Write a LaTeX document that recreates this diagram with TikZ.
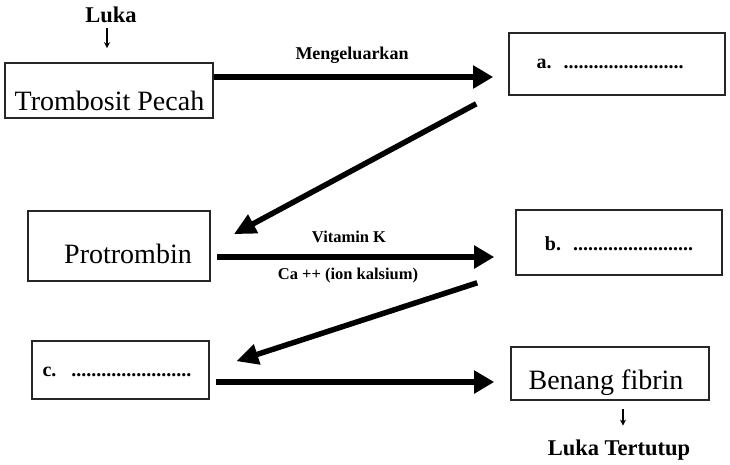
\documentclass[tikz,border=0pt]{standalone}
\usepackage{fontspec}
\setmainfont{Liberation Serif}
\usetikzlibrary{arrows.meta}
\newcommand\dotrow{........................}
\begin{document}
\begin{tikzpicture}[x=1pt,y=-1pt,
  box/.style={draw=black!85,line width=1.6pt,inner sep=0pt},
  word/.style={font=\fontsize{28}{30}\selectfont,inner sep=0pt},
  lab/.style={font=\bfseries\fontsize{17}{19}\selectfont,inner sep=0pt},
  biglab/.style={font=\bfseries\fontsize{22.5}{24}\selectfont,inner sep=0pt},
  blank/.style={font=\bfseries\fontsize{20}{22}\selectfont,inner sep=0pt},
  bigarrow/.style={line width=6.5pt,-{Triangle[length=20pt,width=22pt]}},
  diagarrow/.style={line width=5.5pt,-{Triangle[length=22pt,width=20pt]}},
  smallarrow/.style={line width=1.2pt,-{Stealth[length=6pt,width=6pt]}}]
\useasboundingbox (0,0) rectangle (730,464);
% boxes
\node[box,minimum width=208pt,minimum height=55pt] (tromb) at (109,90.5) {};
\node[box,minimum width=216pt,minimum height=62pt] (a) at (617,64) {};
\node[box,minimum width=182pt,minimum height=70pt] (prot) at (119,246) {};
\node[box,minimum width=206pt,minimum height=65pt] (b) at (619,242.5) {};
\node[box,minimum width=177pt,minimum height=58pt] (c) at (120.5,370) {};
\node[box,minimum width=198pt,minimum height=53pt] (fib) at (610,373.5) {};
% texts in boxes
\node[word] (trombT) at (109.5,101) {Trombosit Pecah};
\node[blank] (aT) at (610,64) {a.\hspace{12pt}\dotrow};
\node[blank] (bT) at (619,244) {b.\hspace{12pt}\dotrow};
\node[blank] (cT) at (117,372) {c.\hspace{15pt}\dotrow};
\node[word] (protT) at (128,254) {Protrombin};
\node[word] (fibT) at (606,383) {Benang fibrin};
% outer labels
\node[biglab] (luka) at (111,15) {Luka};
\node[biglab] (lt) at (619,450) {Luka Tertutup};
\node[lab,font=\bfseries\fontsize{18}{20}\selectfont] (meng) at (352,55) {Mengeluarkan};
\node[lab,font=\bfseries\fontsize{16.5}{18}\selectfont] (vitk) at (349,237) {Vitamin K};
\node[lab,font=\bfseries\fontsize{16.5}{18}\selectfont] (ca) at (348,276) {Ca ++ (ion kalsium)};
% connectors
\draw[smallarrow] ([xshift=-4pt,yshift=-4.5pt]luka.south) -- ([xshift=-2pt,yshift=14pt]tromb.north);
\draw[bigarrow] ([yshift=13.5pt]tromb.east) -- ([xshift=-15pt,yshift=-13pt]a.west);
\draw[diagarrow] ([xshift=-32pt,yshift=-8pt]a.south west) -- ([xshift=23pt,yshift=-24pt]prot.north east);
\draw[bigarrow] ([xshift=6pt,yshift=-11pt]prot.east) -- ([xshift=-21pt,yshift=-14.5pt]b.west);
\draw[diagarrow] ([xshift=-38pt,yshift=-7pt]b.south west) -- ([xshift=26.5pt,yshift=-21pt]c.north east);
\draw[bigarrow] ([xshift=6.5pt,yshift=-12pt]c.east) -- ([xshift=-16pt,yshift=-8.5pt]fib.west);
\draw[smallarrow] ([xshift=13pt,yshift=-8pt]fib.south) -- ([xshift=4pt,yshift=14pt]lt.north);
\end{tikzpicture}
\end{document}
